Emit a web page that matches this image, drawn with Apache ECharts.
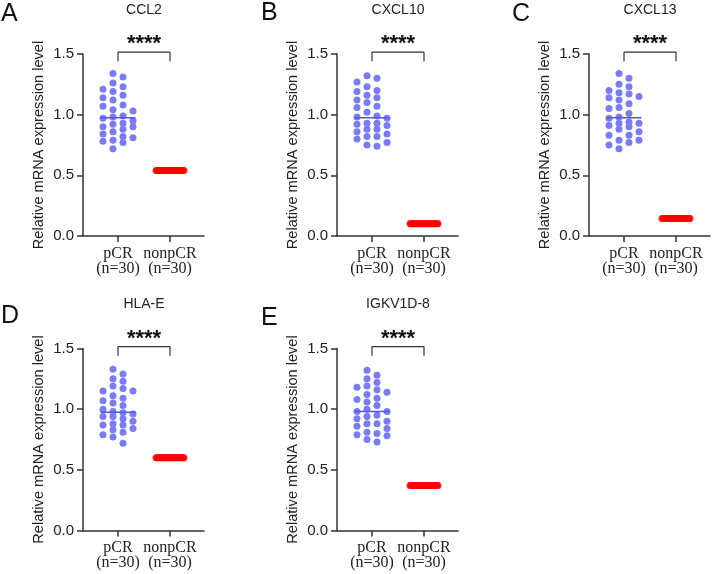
<!DOCTYPE html>
<html>
<head>
<meta charset="utf-8">
<script src="https://cdn.jsdelivr.net/npm/echarts@6/dist/echarts.min.js"></script>
<style>
  html, body { margin: 0; padding: 0; background: #fff; }
  #chart { width: 713px; height: 574px; }
</style>
</head>
<body>
<div id="chart"></div>
<script>
// panel letters and gene names
const letters = ['A', 'B', 'C', 'D', 'E'];
const genes = ['CCL2', 'CXCL10', 'CXCL13', 'HLA-E', 'IGKV1D-8'];
const groups = ['pCR', 'nonpCR'];
const groupN = [30, 30];
const yTicks = [0, 0.5, 1.0, 1.5];

// pCR values
const pcrCCL2 = [1.34, 1.31, 1.26, 1.23, 1.21, 1.19, 1.16, 1.14, 1.12, 1.08, 1.07, 1.04, 1.03, 0.99, 0.98,
  0.97, 0.95, 0.93, 0.92, 0.90, 0.90, 0.88, 0.86, 0.84, 0.82, 0.81, 0.79, 0.78, 0.77, 0.72];
const pcrCXCL10 = [1.32, 1.30, 1.27, 1.23, 1.20, 1.19, 1.16, 1.14, 1.12, 1.10, 1.07, 1.06, 1.02, 0.99, 0.98,
  0.97, 0.93, 0.93, 0.92, 0.91, 0.88, 0.88, 0.86, 0.84, 0.82, 0.82, 0.80, 0.77, 0.75, 0.74];
const pcrCXCL13 = [1.34, 1.30, 1.25, 1.23, 1.20, 1.18, 1.17, 1.15, 1.14, 1.12, 1.09, 1.06, 1.05, 1.01, 0.98,
  0.97, 0.94, 0.93, 0.93, 0.91, 0.90, 0.88, 0.86, 0.83, 0.83, 0.79, 0.79, 0.77, 0.75, 0.72];
const pcrHLAE = [1.33, 1.29, 1.25, 1.23, 1.19, 1.17, 1.15, 1.15, 1.11, 1.09, 1.07, 1.05, 1.03, 1.00, 0.98,
  0.97, 0.96, 0.94, 0.94, 0.92, 0.90, 0.88, 0.87, 0.87, 0.84, 0.83, 0.81, 0.79, 0.77, 0.72];
const pcrIGKV = [1.32, 1.28, 1.25, 1.22, 1.19, 1.18, 1.16, 1.14, 1.12, 1.09, 1.08, 1.06, 1.03, 1.00, 0.98,
  0.98, 0.95, 0.94, 0.92, 0.90, 0.88, 0.88, 0.86, 0.84, 0.81, 0.80, 0.79, 0.78, 0.75, 0.73];

// nonpCR values: all 30 sit on top of each other
const nonCCL2 = [0.54, 0.54, 0.54, 0.54, 0.54, 0.54, 0.54, 0.54, 0.54, 0.54, 0.54, 0.54, 0.54, 0.54, 0.54,
  0.54, 0.54, 0.54, 0.54, 0.54, 0.54, 0.54, 0.54, 0.54, 0.54, 0.54, 0.54, 0.54, 0.54, 0.54];
const nonCXCL10 = [0.10, 0.10, 0.10, 0.10, 0.10, 0.10, 0.10, 0.10, 0.10, 0.10, 0.10, 0.10, 0.10, 0.10, 0.10,
  0.10, 0.10, 0.10, 0.10, 0.10, 0.10, 0.10, 0.10, 0.10, 0.10, 0.10, 0.10, 0.10, 0.10, 0.10];
const nonCXCL13 = [0.145, 0.145, 0.145, 0.145, 0.145, 0.145, 0.145, 0.145, 0.145, 0.145, 0.145, 0.145, 0.145, 0.145, 0.145,
  0.145, 0.145, 0.145, 0.145, 0.145, 0.145, 0.145, 0.145, 0.145, 0.145, 0.145, 0.145, 0.145, 0.145, 0.145];
const nonHLAE = [0.60, 0.60, 0.60, 0.60, 0.60, 0.60, 0.60, 0.60, 0.60, 0.60, 0.60, 0.60, 0.60, 0.60, 0.60,
  0.60, 0.60, 0.60, 0.60, 0.60, 0.60, 0.60, 0.60, 0.60, 0.60, 0.60, 0.60, 0.60, 0.60, 0.60];
const nonIGKV = [0.37, 0.37, 0.37, 0.37, 0.37, 0.37, 0.37, 0.37, 0.37, 0.37, 0.37, 0.37, 0.37, 0.37, 0.37,
  0.37, 0.37, 0.37, 0.37, 0.37, 0.37, 0.37, 0.37, 0.37, 0.37, 0.37, 0.37, 0.37, 0.37, 0.37];

const pcrSets = [pcrCCL2, pcrCXCL10, pcrCXCL13, pcrHLAE, pcrIGKV];
const nonSets = [nonCCL2, nonCXCL10, nonCXCL13, nonHLAE, nonIGKV];
const stars = ['****', '****', '****', '****', '****'];

// layout
const gridLeft = [83, 337, 589, 83, 337];
const gridTop = [54, 54, 54, 348.5, 348.5];
const letterX = [1, 261, 512, 1, 261];
const letterY = [14, 13, 14, 316, 318];
const gridW = 121, gridH = 182;
const pxX = 52;                 // px per x unit (distance between groups)
const pxY = gridH / 1.5;        // px per y unit
const xMin = 1 - 35 / pxX;
const xMax = xMin + gridW / pxX;
const dot = 7;

// GraphPad-like column scatter: place dots in columns, tight clusters become a band
function swarm(values) {
  const n = values.length;
  const spread = (Math.max(...values) - Math.min(...values)) * pxY;
  if (spread < dot) {
    return values.map((v, i) => -14 + 28 * i / (n - 1));
  }
  const slots = [-5, 5, -15, 15];
  const placed = slots.map(() => []);
  const order = values.map((v, i) => i).sort((a, b) => values[b] - values[a]);
  const off = new Array(n);
  order.forEach(i => {
    const y = values[i] * pxY;
    let best = 0, bestGap = -1;
    for (let s = 0; s < slots.length; s++) {
      const gap = Math.min(Infinity, ...placed[s].map(p => Math.abs(p - y)));
      if (gap >= dot) { best = s; break; }
      if (gap > bestGap) { bestGap = gap; best = s; }
    }
    placed[best].push(y);
    off[i] = slots[best];
  });
  return off;
}

function median(arr) {
  const s = arr.slice().sort((a, b) => a - b);
  const m = s.length / 2;
  return s.length % 2 ? s[Math.floor(m)] : (s[m - 1] + s[m]) / 2;
}

const chart = echarts.init(document.getElementById('chart'));
const grids = [], xAxes = [], yAxes = [], series = [], graphics = [];

genes.forEach((g, k) => {
  grids.push({ left: gridLeft[k], top: gridTop[k], width: gridW, height: gridH });
  xAxes.push({
    type: 'value', gridIndex: k, min: xMin, max: xMax,
    splitLine: { show: false },
    axisLine: { show: true, lineStyle: { color: '#333', width: 1.5 } },
    axisTick: { show: true, customValues: [1, 2], length: 6, lineStyle: { color: '#333', width: 1.5 } },
    axisLabel: {
      customValues: [1, 2], margin: 10,
      formatter: v => groups[v - 1] + '\n(n=' + groupN[v - 1] + ')',
      fontFamily: 'Liberation Serif', fontSize: 16, lineHeight: 15, color: '#222'
    }
  });
  yAxes.push({
    type: 'value', gridIndex: k, min: yTicks[0], max: yTicks[yTicks.length - 1], interval: 0.5,
    splitLine: { show: false },
    axisLine: { show: true, lineStyle: { color: '#333', width: 1.5 } },
    axisTick: { show: true, length: 6, lineStyle: { color: '#333', width: 1.5 } },
    axisLabel: { formatter: v => v.toFixed(1), margin: 9, fontFamily: 'Liberation Sans', fontSize: 15, color: '#222' },
    name: 'Relative mRNA expression level', nameLocation: 'middle', nameGap: 37,
    nameTextStyle: { fontFamily: 'Liberation Sans', fontSize: 14.6, color: '#222' }
  });

  const pcr = pcrSets[k], non = nonSets[k];
  const offP = swarm(pcr), offN = swarm(non);
  series.push({
    type: 'scatter', xAxisIndex: k, yAxisIndex: k, symbolSize: dot, z: 2,
    itemStyle: { color: '#7b7bf2', opacity: 1 },
    data: pcr.map((v, i) => [1 + offP[i] / pxX, v])
  });
  series.push({
    type: 'scatter', xAxisIndex: k, yAxisIndex: k, symbolSize: dot, z: 2,
    itemStyle: { color: '#ff0000' },
    data: non.map((v, i) => [2 + offN[i] / pxX, v])
  });
  const med = median(pcr);
  series.push({
    type: 'line', xAxisIndex: k, yAxisIndex: k, symbol: 'none', z: 3, silent: true,
    lineStyle: { color: '#5656e6', width: 1.5 },
    data: [[1 - 17.5 / pxX, med], [1 + 17.5 / pxX, med]]
  });
  // significance bracket
  series.push({
    type: 'line', xAxisIndex: k, yAxisIndex: k, symbol: 'none', z: 3, silent: true, clip: false,
    lineStyle: { color: '#333', width: 1.2 },
    data: [[1, 1.44], [1, 1.515], [2, 1.515], [2, 1.44]]
  });

  graphics.push({
    type: 'text', x: letterX[k], y: letterY[k],
    style: { text: letters[k], fontFamily: 'Liberation Sans', fontSize: 25, fill: '#111', verticalAlign: 'middle' }
  });
  graphics.push({
    type: 'text', x: gridLeft[k] + 61, y: gridTop[k] - 44,
    style: { text: g, fontFamily: 'Liberation Sans', fontSize: 14, fill: '#222', align: 'center', verticalAlign: 'middle' }
  });
  graphics.push({
    type: 'text', x: gridLeft[k] + 61, y: gridTop[k] - 10,
    style: { text: stars[k], fontFamily: 'Liberation Sans', fontWeight: 'bold', fontSize: 22, fill: '#111', align: 'center', verticalAlign: 'middle' }
  });
});

chart.setOption({
  backgroundColor: '#fff',
  animation: false,
  grid: grids,
  xAxis: xAxes,
  yAxis: yAxes,
  series: series,
  graphic: graphics
});
</script>
</body>
</html>
